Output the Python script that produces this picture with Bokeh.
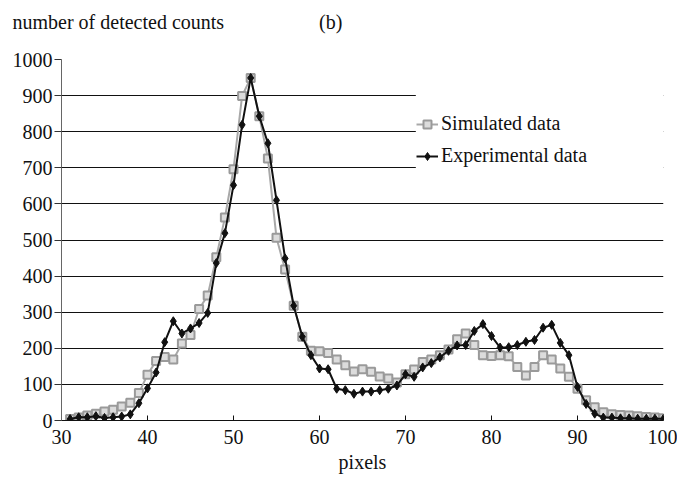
from bokeh.plotting import figure
from bokeh.models import (Legend, LegendItem, BoxAnnotation, FixedTicker,
                          ColumnDataSource, Range1d, Title)
from bokeh.embed import file_html
from bokeh.resources import INLINE

# ---- data ----
pixels = list(range(31, 101))
simulated = [4, 8, 14, 19, 25, 30, 39, 49, 76, 127,
             165, 176, 169, 213, 237, 309, 346, 452, 562, 696,
             899, 949, 843, 726, 506, 418, 318, 232, 193, 192,
             187, 169, 153, 136, 142, 135, 122, 116, 105, 128,
             141, 162, 169, 181, 197, 225, 241, 209, 181, 179,
             181, 178, 148, 125, 148, 181, 169, 144, 121, 88,
             56, 37, 23, 17, 15, 14, 12, 10, 8, 6]
experimental = [4, 9, 9, 12, 7, 9, 11, 17, 48, 89,
                133, 217, 275, 241, 255, 270, 298, 436, 519, 652,
                819, 949, 843, 768, 610, 449, 318, 232, 181, 144,
                142, 88, 84, 74, 80, 80, 84, 88, 97, 128,
                121, 147, 159, 175, 193, 208, 209, 248, 267, 234,
                202, 203, 209, 218, 223, 257, 265, 215, 181, 93,
                46, 19, 8, 8, 6, 6, 5, 5, 5, 5]
x_ticks = [30, 40, 50, 60, 70, 80, 90, 100]
y_ticks = [0, 100, 200, 300, 400, 500, 600, 700, 800, 900, 1000]
grid_ticks = [100, 200, 300, 400, 500, 600, 700, 800, 900]

FONT = "Liberation Serif"
NB = "\u00a0"

src = ColumnDataSource(dict(x=pixels, sim=simulated, exp=experimental))

p = figure(frame_width=602, frame_height=361,
           min_border_left=61, min_border_right=14,
           min_border_top=59, min_border_bottom=56,
           x_range=Range1d(30, 100), y_range=Range1d(0, 1000),
           output_backend="svg", toolbar_location=None,
           background_fill_color="white", border_fill_color="white")
p.outline_line_color = None

# title line (left text and panel tag); second line is an empty spacer
p.add_layout(Title(text="number of detected counts" + NB * 19 + "(b)\n" + NB,
                   align="left", offset=-49, standoff=10,
                   text_font=FONT, text_font_size="20px",
                   text_font_style="normal", text_color="#111111"), "above")

# axes
p.xaxis.ticker = FixedTicker(ticks=x_ticks)
p.xaxis.major_tick_in = 5
p.xaxis.major_tick_out = 0
p.xaxis.minor_tick_line_color = None
p.xaxis.axis_line_color = "#111111"
p.xaxis.major_tick_line_color = "#111111"
p.xaxis.major_label_text_font = FONT
p.xaxis.major_label_text_font_size = "20px"
p.xaxis.major_label_text_color = "#111111"
p.xaxis.major_label_standoff = 9
p.xaxis.axis_label = "pixels"
p.xaxis.axis_label_text_font = FONT
p.xaxis.axis_label_text_font_size = "20px"
p.xaxis.axis_label_text_font_style = "normal"
p.xaxis.axis_label_text_color = "#111111"
p.xaxis.axis_label_standoff = 4

p.yaxis.ticker = FixedTicker(ticks=y_ticks)
p.yaxis.major_tick_in = 0
p.yaxis.major_tick_out = 7
p.yaxis.minor_tick_line_color = None
p.yaxis.axis_line_color = "#666666"
p.yaxis.major_tick_line_color = "#333333"
p.yaxis.major_label_text_font = FONT
p.yaxis.major_label_text_font_size = "20px"
p.yaxis.major_label_text_color = "#111111"
p.yaxis.major_label_standoff = 2

# grid
p.xgrid.visible = False
p.ygrid.ticker = FixedTicker(ticks=grid_ticks)
p.ygrid.grid_line_color = "#111111"
p.ygrid.grid_line_width = 1

# series
sim_line = p.line("x", "sim", source=src, line_color="#a8a8a8", line_width=2)
sim_pts = p.scatter("x", "sim", source=src, marker="square", size=8,
                    fill_color="#dcdcdc", line_color="#9a9a9a", line_width=2)
exp_line = p.line("x", "exp", source=src, line_color="#111111", line_width=2)
exp_pts = p.scatter("x", "exp", source=src, marker="diamond", size=9,
                    fill_color="#111111", line_color="#111111")

# white legend area covering the grid lines
box = BoxAnnotation(left=71.2, bottom=650, fill_color="white", fill_alpha=1.0,
                    line_color=None)
p.add_layout(box)

legend = Legend(items=[LegendItem(label="Simulated data", renderers=[sim_line, sim_pts]),
                       LegendItem(label="Experimental data", renderers=[exp_line, exp_pts])],
                location=(355, 253), padding=0, margin=0, spacing=9,
                label_height=20, glyph_height=20, glyph_width=22, label_standoff=3,
                background_fill_alpha=0, border_line_color=None,
                label_text_font=FONT, label_text_font_size="20px",
                label_text_color="#111111")
p.add_layout(legend)

open("out.html", "w").write(file_html(p, INLINE))
